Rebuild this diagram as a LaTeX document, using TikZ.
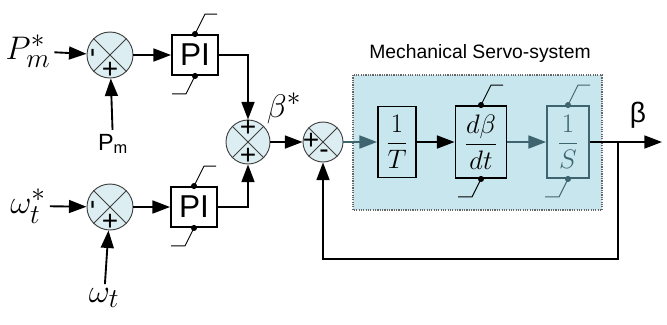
\documentclass[tikz,border=0pt]{standalone}
\usepackage{amsmath,amssymb}
\usepackage{graphicx}
\usepackage{fontspec}
\setsansfont{Liberation Sans}
\usepackage{tikz}
\usetikzlibrary{arrows.meta,positioning}

\definecolor{sumfill}{HTML}{DDEEF2}
\definecolor{servofill}{HTML}{C8E6EE}
\definecolor{servoline}{HTML}{3E6470}

\newcommand{\bigmath}[1]{\scalebox{1.12}{\Huge$#1$}}
\newcommand{\fracmath}[1]{\scalebox{1.1}{\huge$\dfrac#1$}}

\begin{document}
\begin{tikzpicture}[x=0.03cm, y=-0.03cm,
  sum/.style={circle, draw=black!75, fill=sumfill, line width=0.8pt,
              inner sep=0pt, minimum size=1.38cm},
  blk/.style={rectangle, draw, line width=1.6pt, inner sep=0pt},
  pibox/.style={blk, minimum width=1.38cm, minimum height=1.2cm,
                font=\sffamily\fontsize{27}{30}\selectfont},
  arr/.style={-{Triangle[length=15pt,width=11pt]}, line width=1.6pt},
  sat/.style={line width=0.8pt},
  sign/.style={font=\sffamily\fontsize{24}{24}\selectfont, inner sep=0pt},
]
  \useasboundingbox (0,0) rectangle (667,324);

  % servo-system area
  \draw[fill=servofill, draw=black!60, densely dotted, line width=1pt]
    (353,75) rectangle (602,210);
  \node[font=\sffamily\fontsize{16.5}{19}\selectfont] (title) at (480,53) {Mechanical Servo-system};

  % summing junctions
  \node[sum] (s1) at (110,55) {};
  \node[sum] (s2) at (110,207) {};
  \node[sum, minimum size=1.32cm] (s3) at (248,142) {};
  \node[sum, minimum size=1.2cm] (s4) at (323,142) {};
  \foreach \s in {s1,s2,s3,s4}
    \draw[black!75, line width=0.8pt] (\s.north west) -- (\s.south east)
                                      (\s.north east) -- (\s.south west);

  \node[sign, rotate=90] (m1) at (96,53) {-};
  \node[sign] (p1) at (110,70) {+};
  \node[sign, rotate=90] (m2) at (96,205) {-};
  \node[sign] (p2) at (110,222) {+};
  \node[sign] (p3) at (248,128) {+};
  \node[sign] (p4) at (248,156) {+};
  \node[sign] (p5) at (311,141) {+};
  \node[sign] (m5) at (324,154) {-};

  % blocks
  \node[pibox] (pi1) at (195,55) {PI};
  \node[pibox] (pi2) at (194,207) {PI};
  \node[blk, minimum width=1.14cm, minimum height=2.13cm] (t1) at (397,142) {\fracmath{{1}{T}}};
  \node[blk, minimum width=1.53cm, minimum height=2.16cm] (db) at (481,142) {\fracmath{{d\beta}{dt}}};
  \node[blk, draw=servoline, text=servoline, minimum width=1.26cm, minimum height=2.16cm]
    (inv) at (568,142) {\fracmath{{1}{S}}};

  % limiters
  \foreach \b/\c in {pi1/black, pi2/black, db/black, inv/servoline}{
    \draw[sat, \c] (\b.north) -- ++(10,-20) -- ++(12,0);
    \draw[sat, \c] (\b.south) -- ++(-9,18) -- ++(-14,0);
    \fill[\c] (\b.north) circle (2.6pt) (\b.south) circle (2.6pt);
  }

  % signals
  \node (pref) at (28,51) {\bigmath{P_m^*}};
  \node[font=\sffamily\fontsize{20}{22}\selectfont] (pm) at (113,144) {P\textsubscript{m}};
  \node (wref) at (28,206) {\bigmath{\omega_t^*}};
  \node (wt) at (104,298) {\bigmath{\omega_t}};
  \node (bref) at (284,108) {\bigmath{\beta^*}};
  \node[font=\sffamily\fontsize{24}{26}\selectfont] (bout) at (638,115) {β};

  \coordinate (br) at (618,142);
  \coordinate (out) at (662,142);
  \coordinate (fb) at (618,259);

  % connections
  \draw[arr] (pref) -- (s1);
  \draw[arr] (pm) -- (s1);
  \draw[arr] (s1) -- (pi1);
  \draw[arr] (wref) -- (s2);
  \draw[arr] (wt) -- (s2);
  \draw[arr] (s2) -- (pi2);
  \draw[arr] (pi1.east) -| (s3.north);
  \draw[arr] (pi2.east) -| (s3.south);
  \draw[arr] (s3) -- (s4);
  \draw[arr, servoline] (s4) -- (t1);
  \draw[arr] (t1) -- (db);
  \draw[arr, servoline] (db) -- (inv);
  \draw[arr] (inv) -- (out);
  \draw[arr] (br) -- (fb) -| (s4.south);
\end{tikzpicture}
\end{document}
